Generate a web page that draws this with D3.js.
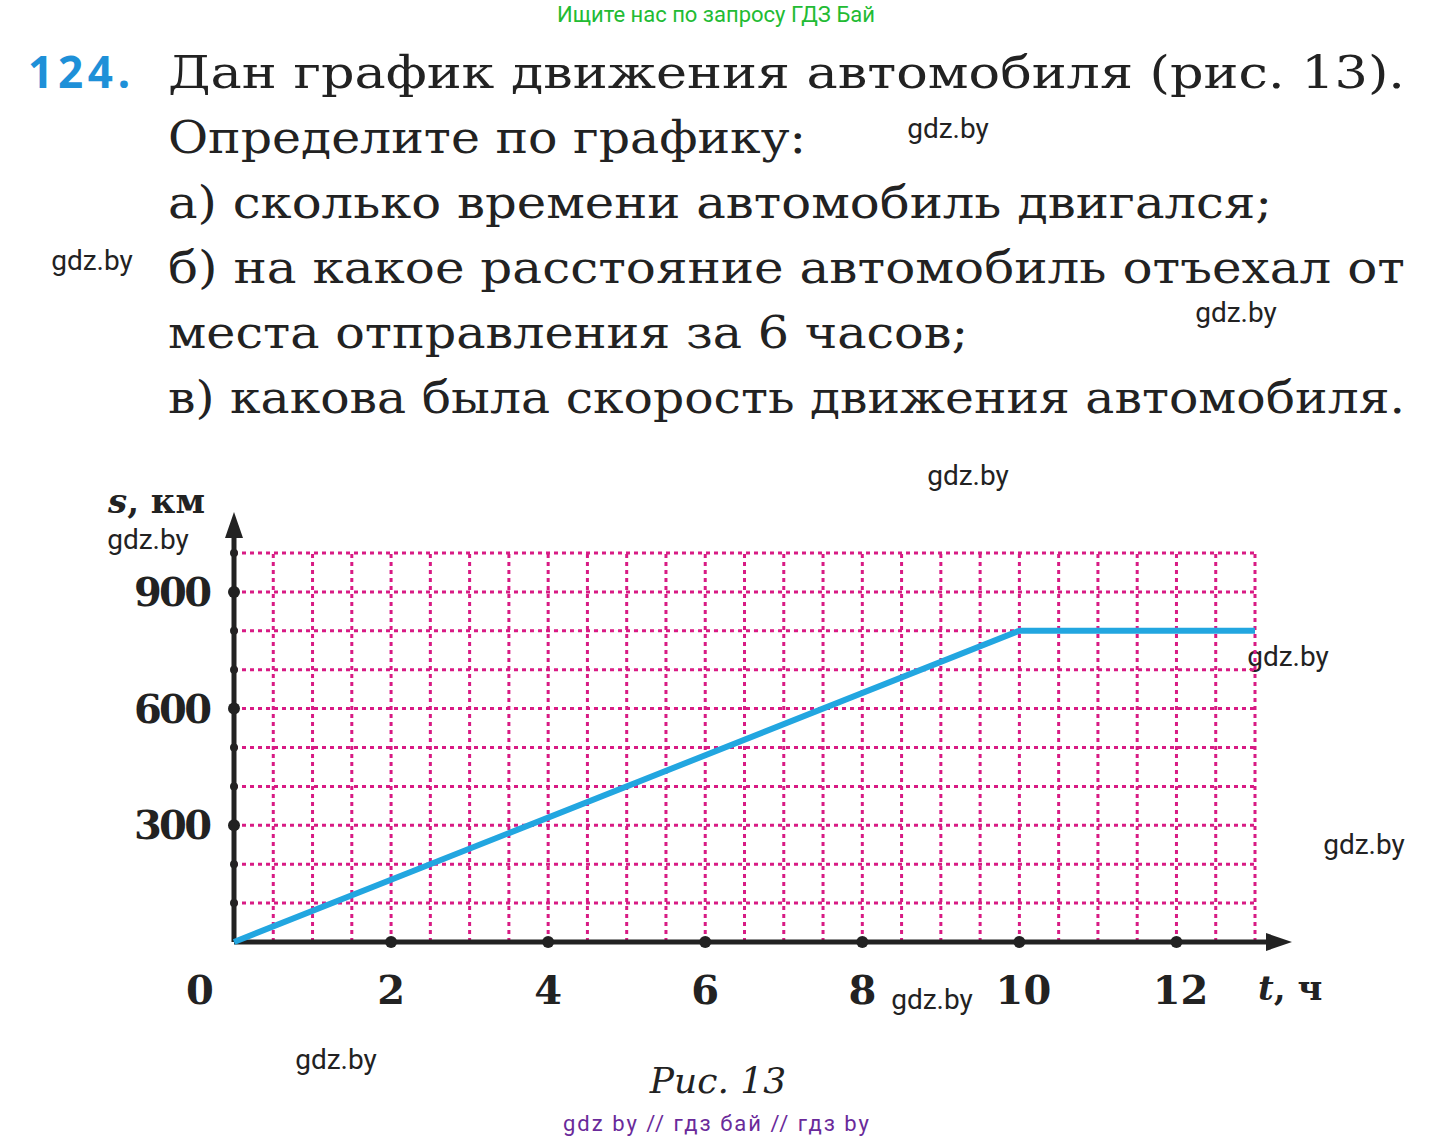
<!DOCTYPE html><html><head><meta charset="utf-8"><script src="https://cdn.jsdelivr.net/npm/d3@7"></script>
<style>body{margin:0;background:#fff}svg{display:block}</style></head><body>
<script>
const times=[0,10,13];
const dist=[0,800,800];
const xTicks=[2,4,6,8,10,12];
const yTicks=[300,600,900];
const problemLines=["Дан  график  движения  автомобиля  (рис.  13).","Определите по графику:","а) сколько времени автомобиль двигался;","б) на какое расстояние автомобиль отъехал от","места отправления за 6 часов;","в) какова была скорость движения автомобиля."];
const lineEnds=[1405,806,1272,1405,968,1405];
const watermarks=[[948,138],[92,270],[1236,322],[968,485],[148,549],[1288,666],[1364,854],[932,1009],[336,1069]];
const W=1433,H=1140;
const svg=d3.select("body").append("svg").attr("width",W).attr("height",H);
const serif="'DejaVu Serif','Liberation Serif',serif";
svg.append("text").attr("x",716).attr("y",22).attr("text-anchor","middle").attr("fill","#22bb33").attr("font-family","Roboto").attr("font-size",22).text("Ищите нас по запросу ГДЗ Бай");
svg.append("text").attr("x",28).attr("y",88).attr("fill","#1e90d8").attr("font-family","'Noto Sans'").attr("font-weight","bold").attr("font-size",44).attr("textLength",102).text("124.");
const ys=[88,153,218,283,348,413];
problemLines.forEach((t,i)=>{svg.append("text").attr("x",168).attr("y",ys[i]).attr("font-family",serif).attr("font-size",44).attr("fill","#222").attr("textLength",lineEnds[i]-168).attr("lengthAdjust","spacingAndGlyphs").text(t);});
watermarks.forEach(([x,y])=>svg.append("text").attr("x",x).attr("y",y).attr("text-anchor","middle").attr("font-family","Roboto").attr("font-size",28).attr("fill","#222").text("gdz.by"));
const x=d3.scaleLinear().domain([0,13]).range([234,1255]);
const y=d3.scaleLinear().domain([0,1000]).range([942,553]);
const g=svg.append("g");
const mag="#d81b84";
d3.range(0.5,13.01,0.5).forEach(v=>g.append("line").attr("x1",x(v)).attr("x2",x(v)).attr("y1",y(0)).attr("y2",y(1000)).attr("stroke",mag).attr("stroke-width",3).attr("stroke-dasharray","4 4"));
d3.range(100,1000.1,100).forEach(v=>g.append("line").attr("x1",x(0)).attr("x2",x(13)).attr("y1",y(v)).attr("y2",y(v)).attr("stroke",mag).attr("stroke-width",3).attr("stroke-dasharray","4 4"));
g.append("line").attr("x1",x(0)).attr("x2",1272).attr("y1",y(0)).attr("y2",y(0)).attr("stroke","#222").attr("stroke-width",5);
g.append("path").attr("d",`M1292,${y(0)} L1266,${y(0)-9} L1266,${y(0)+9}Z`).attr("fill","#222");
g.append("line").attr("x1",x(0)).attr("x2",x(0)).attr("y1",y(0)).attr("y2",530).attr("stroke","#222").attr("stroke-width",5);
g.append("path").attr("d",`M${x(0)},512 L${x(0)-9},538 L${x(0)+9},538Z`).attr("fill","#222");
d3.range(100,1000.1,100).forEach(v=>g.append("circle").attr("cx",x(0)).attr("cy",y(v)).attr("r",yTicks.includes(v)?6:4).attr("fill","#222"));
xTicks.forEach(v=>g.append("circle").attr("cx",x(v)).attr("cy",y(0)).attr("r",6).attr("fill","#222"));
g.append("path").datum(times.map((t,i)=>[t,dist[i]])).attr("d",d3.line().x(d=>x(d[0])).y(d=>y(d[1]))).attr("fill","none").attr("stroke","#22a6e0").attr("stroke-width",6);
const lab={"font-family":serif,"font-weight":"bold","font-size":40,"fill":"#222"};
function T(sel,a){for(const k in a)sel.attr(k,a[k]);return sel;}
yTicks.forEach(v=>T(svg.append("text"),lab).attr("x",212).attr("y",y(v)+14).attr("text-anchor","end").attr("textLength",78).text(v));
xTicks.forEach(v=>T(svg.append("text"),lab).attr("x",x(v)+(v>=10?4:0)).attr("y",1004).attr("text-anchor","middle").text(v));
T(svg.append("text"),lab).attr("x",200).attr("y",1004).attr("text-anchor","middle").text("0");
const ax=T(svg.append("text"),lab).attr("x",108).attr("y",513).attr("font-size",34);
ax.append("tspan").attr("font-style","italic").text("s");ax.append("tspan").text(", км");
const at=T(svg.append("text"),lab).attr("x",1258).attr("y",1000).attr("font-size",34);
at.append("tspan").attr("font-style","italic").text("t");at.append("tspan").text(", ч");
svg.append("text").attr("x",718).attr("y",1093).attr("text-anchor","middle").attr("font-family",serif).attr("font-style","italic").attr("font-size",36).attr("fill","#222").text("Рис. 13");
svg.append("text").attr("x",716).attr("y",1131).attr("text-anchor","middle").attr("font-family","Roboto").attr("font-size",22).attr("fill","#6a2a9a").attr("textLength",306).text("gdz by  //  гдз бай  //  гдз by");
</script></body></html>
